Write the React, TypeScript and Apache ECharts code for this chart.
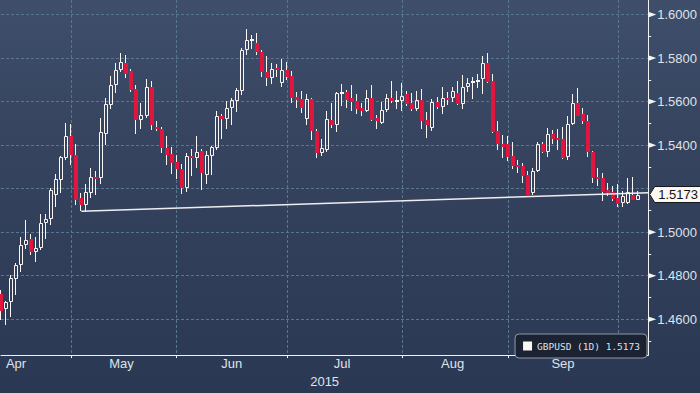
import React, { useEffect, useRef } from 'react';
import * as echarts from 'echarts';

// ---- Data (GBPUSD daily) ----
const START_DATE = '2015-04-13';
const N_CATEGORIES = 130; // weekdays shown on the axis (Apr 13 .. Oct 9)

const OPEN = [
  1.4715, 1.4647, 1.4680, 1.4786, 1.4847, 1.4940, 1.4967, 1.4909, 1.4927, 1.5041,
  1.5059, 1.5173, 1.5241, 1.5340, 1.5443, 1.5356, 1.5158, 1.5124, 1.5182, 1.5252,
  1.5247, 1.5452, 1.5586, 1.5675, 1.5745, 1.5779, 1.5740, 1.5658, 1.5514, 1.5534,
  1.5667, 1.5485, 1.5476, 1.5388, 1.5358, 1.5321, 1.5290, 1.5205, 1.5350, 1.5341,
  1.5371, 1.5265, 1.5352, 1.5386, 1.5534, 1.5520, 1.5570, 1.5605, 1.5650, 1.5836,
  1.5884, 1.5870, 1.5830, 1.5735, 1.5708, 1.5753, 1.5686, 1.5744, 1.5717, 1.5621,
  1.5612, 1.5520, 1.5612, 1.5465, 1.5365, 1.5377, 1.5517, 1.5491, 1.5635, 1.5643,
  1.5615, 1.5605, 1.5570, 1.5559, 1.5615, 1.5523, 1.5500, 1.5561, 1.5615, 1.5603,
  1.5605, 1.5635, 1.5595, 1.5567, 1.5606, 1.5517, 1.5479, 1.5597, 1.5575, 1.5617,
  1.5615, 1.5640, 1.5588, 1.5665, 1.5684, 1.5690, 1.5703, 1.5779, 1.5693, 1.5465,
  1.5406, 1.5403, 1.5349, 1.5308, 1.5304, 1.5261, 1.5180, 1.5279, 1.5403, 1.5370,
  1.5449, 1.5434, 1.5430, 1.5345, 1.5497, 1.5594, 1.5543, 1.5512, 1.5370, 1.5252,
  1.5249, 1.5193, 1.5184, 1.5158, 1.5135, 1.5135, 1.5173, 1.5150,
];
const CLOSE = [
  1.4638, 1.4677, 1.4788, 1.4849, 1.4940, 1.4965, 1.4909, 1.4929, 1.5044, 1.5062,
  1.5194, 1.5244, 1.5344, 1.5443, 1.5355, 1.5150, 1.5123, 1.5184, 1.5252, 1.5244,
  1.5461, 1.5590, 1.5676, 1.5747, 1.5780, 1.5727, 1.5653, 1.5514, 1.5538, 1.5665,
  1.5491, 1.5473, 1.5386, 1.5355, 1.5318, 1.5291, 1.5203, 1.5349, 1.5341, 1.5370,
  1.5273, 1.5353, 1.5390, 1.5535, 1.5518, 1.5570, 1.5609, 1.5653, 1.5838, 1.5884,
  1.5890, 1.5826, 1.5734, 1.5708, 1.5752, 1.5749, 1.5744, 1.5714, 1.5617, 1.5609,
  1.5571, 1.5612, 1.5464, 1.5362, 1.5385, 1.5521, 1.5491, 1.5640, 1.5644, 1.5609,
  1.5600, 1.5568, 1.5558, 1.5615, 1.5517, 1.5509, 1.5561, 1.5615, 1.5605, 1.5608,
  1.5625, 1.5590, 1.5567, 1.5606, 1.5512, 1.5491, 1.5597, 1.5575, 1.5615, 1.5612,
  1.5649, 1.5588, 1.5665, 1.5685, 1.5694, 1.5699, 1.5779, 1.5688, 1.5461, 1.5404,
  1.5390, 1.5344, 1.5304, 1.5299, 1.5259, 1.5173, 1.5279, 1.5403, 1.5370, 1.5449,
  1.5430, 1.5426, 1.5343, 1.5497, 1.5593, 1.5536, 1.5509, 1.5370, 1.5249, 1.5245,
  1.5184, 1.5178, 1.5153, 1.5131, 1.5167, 1.5185, 1.5150, 1.5173,
];
const LOW = [
  1.4597, 1.4575, 1.4609, 1.4709, 1.4818, 1.4923, 1.4895, 1.4865, 1.4918, 1.4968,
  1.5035, 1.5114, 1.5180, 1.5330, 1.5309, 1.5124, 1.5097, 1.5094, 1.5155, 1.5173,
  1.5223, 1.5400, 1.5564, 1.5640, 1.5736, 1.5708, 1.5644, 1.5453, 1.5476, 1.5526,
  1.5468, 1.5464, 1.5362, 1.5309, 1.5268, 1.5245, 1.5177, 1.5186, 1.5259, 1.5297,
  1.5195, 1.5221, 1.5264, 1.5377, 1.5428, 1.5476, 1.5494, 1.5552, 1.5630, 1.5815,
  1.5841, 1.5812, 1.5715, 1.5673, 1.5682, 1.5711, 1.5668, 1.5699, 1.5595, 1.5571,
  1.5549, 1.5494, 1.5423, 1.5340, 1.5349, 1.5370, 1.5479, 1.5461, 1.5582, 1.5570,
  1.5558, 1.5544, 1.5536, 1.5552, 1.5509, 1.5473, 1.5496, 1.5552, 1.5595, 1.5567,
  1.5555, 1.5582, 1.5559, 1.5558, 1.5473, 1.5434, 1.5464, 1.5566, 1.5543, 1.5584,
  1.5597, 1.5585, 1.5567, 1.5643, 1.5612, 1.5662, 1.5635, 1.5685, 1.5458, 1.5377,
  1.5343, 1.5325, 1.5291, 1.5271, 1.5226, 1.5171, 1.5173, 1.5276, 1.5362, 1.5344,
  1.5403, 1.5377, 1.5335, 1.5332, 1.5491, 1.5534, 1.5499, 1.5345, 1.5226, 1.5211,
  1.5143, 1.5165, 1.5143, 1.5115, 1.5117, 1.5131, 1.5147, 1.5147,
];
const HIGH = [
  1.4734, 1.4684, 1.4802, 1.4859, 1.4976, 1.5056, 1.4990, 1.4979, 1.5082, 1.5082,
  1.5203, 1.5267, 1.5350, 1.5503, 1.5499, 1.5403, 1.5181, 1.5221, 1.5294, 1.5281,
  1.5526, 1.5617, 1.5718, 1.5777, 1.5823, 1.5812, 1.5752, 1.5676, 1.5594, 1.5702,
  1.5694, 1.5512, 1.5482, 1.5443, 1.5390, 1.5355, 1.5314, 1.5362, 1.5380, 1.5444,
  1.5380, 1.5373, 1.5395, 1.5559, 1.5541, 1.5605, 1.5617, 1.5661, 1.5847, 1.5935,
  1.5905, 1.5917, 1.5835, 1.5808, 1.5779, 1.5771, 1.5794, 1.5781, 1.5740, 1.5645,
  1.5650, 1.5636, 1.5618, 1.5473, 1.5428, 1.5559, 1.5594, 1.5645, 1.5682, 1.5653,
  1.5676, 1.5635, 1.5594, 1.5653, 1.5676, 1.5540, 1.5600, 1.5635, 1.5693, 1.5649,
  1.5685, 1.5649, 1.5640, 1.5649, 1.5658, 1.5552, 1.5612, 1.5620, 1.5665, 1.5643,
  1.5665, 1.5694, 1.5721, 1.5708, 1.5714, 1.5726, 1.5809, 1.5825, 1.5726, 1.5511,
  1.5445, 1.5443, 1.5414, 1.5332, 1.5317, 1.5279, 1.5294, 1.5415, 1.5415, 1.5481,
  1.5468, 1.5476, 1.5484, 1.5536, 1.5635, 1.5662, 1.5570, 1.5540, 1.5373, 1.5294,
  1.5272, 1.5226, 1.5211, 1.5221, 1.5188, 1.5249, 1.5252, 1.5188,
];

const MONTH_NAMES = ['Jan', 'Feb', 'Mar', 'Apr', 'May', 'Jun', 'Jul', 'Aug', 'Sep', 'Oct', 'Nov', 'Dec'];
const MONTH_LABEL_DATES = ['2015-04-16', '2015-05-15', '2015-06-16', '2015-07-16', '2015-08-17', '2015-09-16'];
const YEAR_LABEL = '2015';
const Y_MIN = 1.4435;
const Y_MAX = 1.6067;
const Y_TICKS = [1.46, 1.48, 1.5, 1.52, 1.54, 1.56, 1.58, 1.6];
const TREND_DATES = ['2015-05-05', '2015-10-09'];
const TREND_VALUES = [1.5096, 1.5181];
const LAST_CLOSE = 1.5173;
const SERIES_NAME = 'GBPUSD (1D)';

// ---- Style ----
const WHITE = '#fbf6f2';
const RED = '#e0163e';
const GRID_COLOR = '#587592';
const TEXT_COLOR = '#dfe3ea';
const TAG_CLEARANCE = 0.006; // tick labels hidden behind the last-price tag

function weekdays(start: string, n: number): string[] {
  const out: string[] = [];
  const d = new Date(start + 'T00:00:00Z');
  while (out.length < n) {
    const wd = d.getUTCDay();
    if (wd !== 0 && wd !== 6) out.push(d.toISOString().slice(0, 10));
    d.setUTCDate(d.getUTCDate() + 1);
  }
  return out;
}

const DATES = weekdays(START_DATE, N_CATEGORIES);

export default function App() {
  const ref = useRef<HTMLDivElement>(null);

  useEffect(() => {
    if (!ref.current) return;
    const chart = echarts.init(ref.current, null, { renderer: 'svg' });

    const monthStarts = new Set<number>();
    DATES.forEach((d, i) => {
      if (i > 0 && d.slice(5, 7) !== DATES[i - 1].slice(5, 7)) monthStarts.add(i);
    });
    const labelIdx = new Set<number>(MONTH_LABEL_DATES.map((d) => DATES.indexOf(d)));
    const nearTag = (v: number) => Math.abs(v - LAST_CLOSE) < TAG_CLEARANCE;

    const candles = OPEN.map((o, i) => [i, o, CLOSE[i], LOW[i], HIGH[i]]);

    const renderItem = (params: any, api: any) => {
      const i = api.value(0);
      const o = api.value(1);
      const c = api.value(2);
      const l = api.value(3);
      const h = api.value(4);
      const pO = api.coord([i, o]);
      const pC = api.coord([i, c]);
      const pL = api.coord([i, l]);
      const pH = api.coord([i, h]);
      const cx = pO[0];
      const L = Math.round(cx - 2);
      const wx = L + 1.5;
      const up = c >= o;
      const topR = Math.round(Math.min(pO[1], pC[1]));
      const botR = Math.max(Math.round(Math.max(pO[1], pC[1])), topR + 1);
      const yH = Math.round(pH[1]);
      const yL = Math.round(pL[1]);
      const children: any[] = [];
      if (up) {
        children.push({ type: 'line', shape: { x1: wx, y1: yH, x2: wx, y2: topR }, style: { stroke: WHITE, lineWidth: 1 } });
        children.push({ type: 'line', shape: { x1: wx, y1: botR, x2: wx, y2: yL }, style: { stroke: WHITE, lineWidth: 1 } });
        if (botR - topR >= 3) {
          children.push({
            type: 'rect',
            shape: { x: L + 0.5, y: topR + 0.5, width: 3, height: botR - topR - 1 },
            style: { fill: 'none', stroke: WHITE, lineWidth: 1 },
          });
        } else {
          children.push({ type: 'rect', shape: { x: L, y: topR, width: 4, height: Math.max(botR - topR, 2) }, style: { fill: WHITE } });
        }
      } else {
        children.push({ type: 'line', shape: { x1: wx, y1: yH, x2: wx, y2: yL }, style: { stroke: WHITE, lineWidth: 1 } });
        children.push({ type: 'rect', shape: { x: L, y: topR, width: 4, height: Math.max(botR - topR, 2) }, style: { fill: RED } });
      }
      return { type: 'group', children };
    };

    chart.setOption({
      animation: false,
      backgroundColor: 'transparent',
      grid: { left: 1, right: 51.4, top: 0, bottom: 34, containLabel: false },
      legend: {
        right: 53,
        bottom: 35,
        icon: 'rect',
        itemWidth: 9,
        itemHeight: 9,
        padding: [7, 7, 7, 8],
        backgroundColor: '#1b2232',
        borderColor: '#9098a6',
        borderWidth: 1,
        borderRadius: 4,
        selectedMode: false,
        textStyle: { color: '#dde1e9', fontFamily: 'DejaVu Sans Mono', fontSize: 9.5 },
        formatter: (name: string) => name + ' ' + LAST_CLOSE.toFixed(4),
        data: [{ name: SERIES_NAME, itemStyle: { color: WHITE } }],
      },
      xAxis: {
        type: 'category',
        data: DATES,
        boundaryGap: false,
        name: YEAR_LABEL,
        nameLocation: 'middle',
        nameGap: 17,
        nameTextStyle: { color: TEXT_COLOR, fontSize: 13, fontFamily: 'Liberation Sans' },
        axisLine: { show: true, lineStyle: { color: '#f2f2f2', width: 1 } },
        axisTick: {
          show: true,
          length: 3,
          interval: (i: number) => monthStarts.has(i),
          lineStyle: { color: '#f2f2f2' },
        },
        axisLabel: {
          interval: (i: number) => labelIdx.has(i),
          formatter: (v: string) => MONTH_NAMES[parseInt(v.slice(5, 7), 10) - 1],
          color: TEXT_COLOR,
          fontSize: 13,
          fontFamily: 'Liberation Sans',
          margin: 2,
        },
        splitLine: {
          show: true,
          interval: (i: number) => monthStarts.has(i),
          lineStyle: { color: GRID_COLOR, type: [3, 2], width: 1 },
        },
      },
      yAxis: {
        type: 'value',
        position: 'right',
        min: Y_MIN,
        max: Y_MAX,
        splitNumber: 8,
        axisLine: { show: true, lineStyle: { color: '#f2f2f2', width: 1 } },
        axisTick: { show: false },
        minorTick: { show: true, splitNumber: 2, length: 3, lineStyle: { color: '#f2f2f2' } },
        axisLabel: {
          showMinLabel: false,
          showMaxLabel: false,
          formatter: (v: number) => (nearTag(v) ? '' : v.toFixed(4)),
          color: TEXT_COLOR,
          fontSize: 13,
          fontFamily: 'Liberation Sans',
          margin: 9,
        },
        splitLine: {
          show: true,
          showMinLine: false,
          showMaxLine: false,
          lineStyle: { color: GRID_COLOR, type: [3, 2], width: 1 },
        },
      },
      series: [
        {
          name: SERIES_NAME,
          type: 'custom',
          data: candles,
          encode: { x: 0, y: [1, 2, 3, 4] },
          itemStyle: { color: WHITE },
          renderItem,
          z: 2,
        },
        {
          name: 'trend',
          type: 'line',
          data: TREND_DATES.map((d, i) => [d, TREND_VALUES[i]]),
          symbol: 'none',
          silent: true,
          lineStyle: { color: '#eeeef2', width: 1.5 },
          z: 3,
        },
      ],
    });

    const xr = chart.convertToPixel({ xAxisIndex: 0 }, DATES[DATES.length - 1]) as number;
    const W = chart.getWidth();
    const graphics: any[] = Y_TICKS.filter((v) => !nearTag(v)).map((v) => {
      const y = chart.convertToPixel({ yAxisIndex: 0 }, v) as number;
      return {
        type: 'polygon',
        shape: { points: [[xr, y - 2.8], [xr + 8, y], [xr, y + 2.8]] },
        style: { fill: '#f4f4f4' },
        z: 10,
      };
    });
    const yc = chart.convertToPixel({ yAxisIndex: 0 }, LAST_CLOSE) as number;
    graphics.push({
      type: 'polygon',
      shape: { points: [[xr + 1.5, yc], [xr + 6.5, yc - 8], [W + 2, yc - 8], [W + 2, yc + 8], [xr + 6.5, yc + 8]] },
      style: { fill: '#fdf7f1', stroke: '#15171c', lineWidth: 1 },
      z: 11,
    });
    graphics.push({
      type: 'text',
      x: xr + 10,
      y: yc,
      style: {
        text: LAST_CLOSE.toFixed(4),
        fill: '#111318',
        fontSize: 13,
        fontFamily: 'Liberation Sans',
        verticalAlign: 'middle',
        align: 'left',
      },
      z: 12,
    });
    chart.setOption({ graphic: graphics });

    return () => chart.dispose();
  }, []);

  return (
    <div
      ref={ref}
      style={{
        position: 'fixed',
        left: 0,
        top: 0,
        width: 700,
        height: 393,
        background:
          'linear-gradient(to bottom, #3f4f6b 0%, #3b4a66 14%, #36445f 35%, #303e59 65%, #2b3853 100%)',
      }}
    />
  );
}
